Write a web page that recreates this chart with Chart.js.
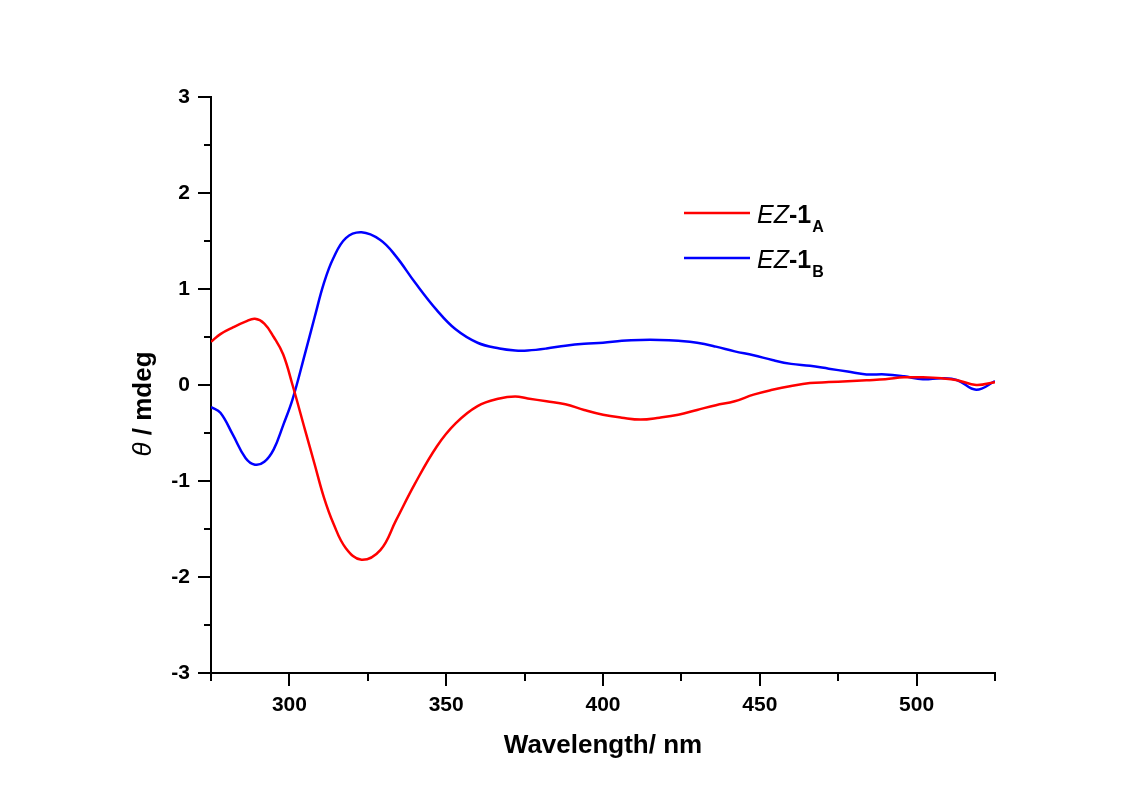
<!DOCTYPE html>
<html>
<head>
<meta charset="utf-8">
<script src="https://cdn.jsdelivr.net/npm/chart.js@4.4.1/dist/chart.umd.min.js"></script>
<style>
  html, body { margin: 0; padding: 0; background: #fff; }
  #wrap { width: 1140px; height: 799px; }
</style>
</head>
<body>
<div id="wrap"><canvas id="cd-chart" width="1140" height="799"></canvas></div>
<script>
// ─── DATA ────────────────────────────────────────────────────────
const wavelengths = [275, 278, 282, 286, 289, 292, 295, 298, 301, 305, 308, 311, 314, 318, 323,
                     329, 334, 340, 347, 353, 360, 367, 372, 376, 382, 388, 394, 400, 406, 412,
                     418, 424, 430, 436, 442, 448, 454, 460, 466, 472, 478, 484, 490, 496, 502,
                     508, 513, 519, 525];

const ez1A = [0.45, 0.53, 0.60, 0.66, 0.69, 0.64, 0.50, 0.32, 0.00, -0.47, -0.82, -1.17, -1.44, -1.70, -1.82,
              -1.72, -1.41, -1.03, -0.64, -0.40, -0.22, -0.14, -0.12, -0.14, -0.17, -0.20, -0.26, -0.31, -0.34, -0.36,
              -0.34, -0.31, -0.26, -0.21, -0.17, -0.10, -0.05, -0.01, 0.02, 0.03, 0.04, 0.05, 0.06, 0.08, 0.08,
              0.07, 0.05, 0.00, 0.03];

const ez1B = [-0.23, -0.29, -0.52, -0.76, -0.83, -0.80, -0.67, -0.42, -0.15, 0.33, 0.70, 1.06, 1.32, 1.53, 1.59,
              1.51, 1.34, 1.07, 0.78, 0.58, 0.44, 0.38, 0.36, 0.36, 0.38, 0.41, 0.43, 0.44, 0.46, 0.47,
              0.47, 0.46, 0.44, 0.40, 0.35, 0.31, 0.26, 0.22, 0.20, 0.17, 0.14, 0.11, 0.11, 0.09, 0.06,
              0.07, 0.05, -0.05, 0.04];

const seriesNames   = ['EZ-1A', 'EZ-1B'];
const legendItalic  = ['EZ', 'EZ'];
const legendBold    = ['-1', '-1'];
const legendSub     = ['A', 'B'];
const seriesColors  = ['#ff0000', '#0000ff'];

const xTickLabels = [300, 350, 400, 450, 500];
const yTickLabels = [-3, -2, -1, 0, 1, 2, 3];

const FONT = "'Liberation Sans', Arial, Helvetica, sans-serif";

// ─── PLUGINS ─────────────────────────────────────────────────────
// Origin-style outward ticks: long for labelled values, short for minor ones
const tickMarks = {
  id: 'tickMarks',
  afterDraw(chart) {
    const { ctx, chartArea: a, scales: { x, y } } = chart;
    ctx.save();
    ctx.strokeStyle = '#000';
    ctx.lineWidth = 2;
    ctx.beginPath();
    x.ticks.forEach(t => {
      const px = Math.round(x.getPixelForValue(t.value));
      const len = xTickLabels.includes(t.value) ? 13 : 8;
      ctx.moveTo(px, a.bottom);
      ctx.lineTo(px, a.bottom + len);
    });
    y.ticks.forEach(t => {
      const py = Math.round(y.getPixelForValue(t.value));
      const len = yTickLabels.includes(t.value) ? 13 : 7;
      ctx.moveTo(a.left, py);
      ctx.lineTo(a.left - len, py);
    });
    ctx.stroke();
    ctx.restore();
  }
};

// y title with italic theta, and the legend with subscripts
const decorations = {
  id: 'decorations',
  afterDraw(chart) {
    const { ctx, chartArea: a } = chart;
    ctx.save();

    // y axis title
    const fItal = `italic 26px ${FONT}`;
    const fBold = `bold 26px ${FONT}`;
    ctx.font = fItal; const w1 = ctx.measureText('θ').width;
    ctx.font = fBold; const w2 = ctx.measureText(' / mdeg').width;
    ctx.translate(151, (a.top + a.bottom) / 2 + 19);
    ctx.rotate(-Math.PI / 2);
    ctx.fillStyle = '#000';
    ctx.textBaseline = 'alphabetic';
    let sx = -(w1 + w2) / 2;
    ctx.font = fItal; ctx.fillText('θ', sx, 0);
    ctx.font = fBold; ctx.fillText(' / mdeg', sx + w1, 0);
    ctx.setTransform(1, 0, 0, 1, 0, 0);

    // legend
    chart.data.datasets.forEach((ds, i) => {
      const ly = a.top + 116 + i * 45;
      ctx.strokeStyle = ds.borderColor;
      ctx.lineWidth = 2.5;
      ctx.beginPath();
      ctx.moveTo(684, ly);
      ctx.lineTo(750, ly);
      ctx.stroke();
      ctx.fillStyle = '#000';
      const base = ly + 10;
      let tx = 757;
      ctx.font = `italic 25px ${FONT}`;
      ctx.fillText(legendItalic[i], tx, base);
      tx += ctx.measureText(legendItalic[i]).width;
      ctx.font = `bold 25px ${FONT}`;
      ctx.fillText(legendBold[i], tx, base);
      tx += ctx.measureText(legendBold[i]).width + 1;
      ctx.font = `bold 16px ${FONT}`;
      ctx.fillText(legendSub[i], tx, base + 9);
    });
    ctx.restore();
  }
};

// ─── CHART ───────────────────────────────────────────────────────
new Chart(document.getElementById('cd-chart'), {
  type: 'line',
  data: {
    datasets: [ez1A, ez1B].map((vals, i) => ({
      label: seriesNames[i],
      data: wavelengths.map((w, k) => ({ x: w, y: vals[k] })),
      borderColor: seriesColors[i],
      borderWidth: 2.5,
      pointRadius: 0,
      tension: 0.4,
      fill: false
    }))
  },
  options: {
    responsive: false,
    animation: false,
    layout: { padding: { left: 0, right: 145, top: 97, bottom: 0 } },
    plugins: { legend: { display: false }, tooltip: { enabled: false } },
    scales: {
      x: {
        type: 'linear', min: 275, max: 525,
        afterFit: s => { s.height = 126; },
        grid: { display: false, drawTicks: false },
        border: { display: true, color: '#000', width: 2 },
        ticks: {
          stepSize: 25, autoSkip: false, maxRotation: 0, padding: 20, color: '#000',
          font: { family: FONT, size: 21, weight: 'bold' },
          callback: v => xTickLabels.includes(v) ? String(v) : ''
        },
        title: {
          display: true, text: 'Wavelength/ nm', color: '#000',
          font: { family: FONT, size: 26, weight: 'bold' },
          padding: { top: 0, bottom: 38 }
        }
      },
      y: {
        type: 'linear', min: -3, max: 3,
        afterFit: s => { s.width = 211; },
        grid: { display: false, drawTicks: false },
        border: { display: true, color: '#000', width: 2 },
        ticks: {
          stepSize: 0.5, autoSkip: false, padding: 21, color: '#000',
          font: { family: FONT, size: 21, weight: 'bold' },
          callback: v => yTickLabels.includes(v) ? String(v) : ''
        }
      }
    }
  },
  plugins: [tickMarks, decorations]
});
</script>
</body>
</html>
